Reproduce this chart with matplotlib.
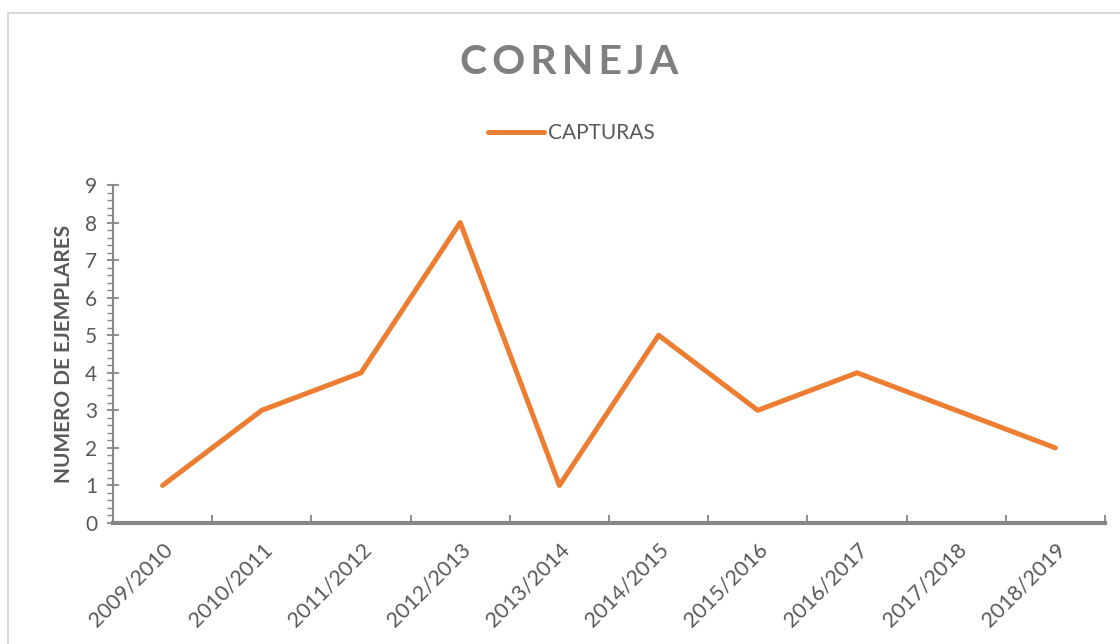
# -*- coding:utf-8 -*-
import numpy as np
import matplotlib
matplotlib.use("Agg")
import matplotlib.pyplot as plt
from matplotlib.lines import Line2D
from matplotlib.ticker import MultipleLocator, FixedLocator

plt.rcParams['font.family'] = ['Lato', 'DejaVu Sans']

temporadas = ["2009/2010", "2010/2011", "2011/2012", "2012/2013", "2013/2014",
              "2014/2015", "2015/2016", "2016/2017", "2017/2018", "2018/2019"]
capturas = [1, 3, 4, 8, 1, 5, 3, 4, 3, 2]

gris = "#595959"
eje = "#868686"
naranja = "#ED7D31"

fig = plt.figure(figsize=(11.2, 6.44), dpi=100)
ax = fig.add_axes([113/1120, 1-523/644, (1105-113)/1120, (523-185)/644])

x = np.arange(len(temporadas))
ax.plot(x, capturas, color=naranja, lw=3.6, solid_capstyle="round",
        solid_joinstyle="round", label="CAPTURAS")

ax.set_xlim(-0.5, len(temporadas) - 0.5)
ax.set_ylim(0, 9)

# eje y
ax.yaxis.set_major_locator(MultipleLocator(1))
ax.yaxis.set_minor_locator(MultipleLocator(0.2))
ax.tick_params(axis="y", which="major", direction="inout", length=9, width=1.3,
               color=eje, labelcolor=gris, labelsize=15, pad=7)
ax.tick_params(axis="y", which="minor", direction="out", length=4, width=1.0, color=eje)

# eje x: marcas entre categorias
ax.set_xticks(x)
ax.set_xticklabels(temporadas, rotation=45, ha="right", va="top",
                   rotation_mode="anchor", color=gris, fontsize=15.5)
ax.xaxis.set_minor_locator(FixedLocator(np.arange(-0.5, len(temporadas), 1)))
ax.tick_params(axis="x", which="major", length=0, pad=12)
ax.tick_params(axis="x", which="minor", direction="in", length=6, width=1.3, color=eje)

for s in ["top", "right"]:
    ax.spines[s].set_visible(False)
ax.spines["left"].set_color(eje)
ax.spines["left"].set_linewidth(1.5)
ax.spines["bottom"].set_color(eje)
ax.spines["bottom"].set_linewidth(3)

ax.set_ylabel("NUMERO DE EJEMPLARES", fontsize=15, fontweight="bold", color=gris, labelpad=8)

fig.text(569/1120, 1-62/644, "C O R N E J A".replace(" ", "\u2009"), ha="center", va="center",
         fontsize=29.5, fontweight="bold", color="#7f7f7f")

fig.legend(loc="center", bbox_to_anchor=(0.51, 1-133/644), frameon=False,
           fontsize=15, labelcolor=gris, handlelength=2.7, handletextpad=0.15)

# borde del grafico
fig.add_artist(Line2D([8/1120, 8/1120], [0, 1-13/644], transform=fig.transFigure,
                      color="#d9d9d9", lw=1.5))
fig.add_artist(Line2D([8/1120, 1], [1-13/644, 1-13/644], transform=fig.transFigure,
                      color="#d9d9d9", lw=1.5))

fig.savefig("out.png", dpi=100)
